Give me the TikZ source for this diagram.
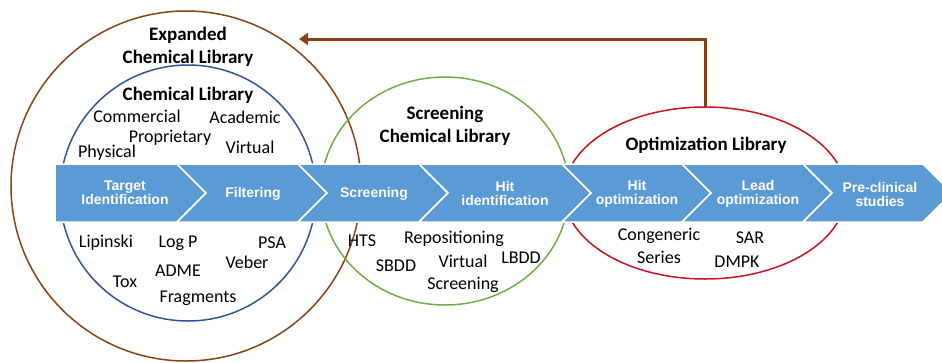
\documentclass[tikz,border=0pt]{standalone}
\usepackage{fontspec}
\setmainfont{Carlito}
\newfontfamily\bandfont{Liberation Sans}
\usetikzlibrary{shapes.geometric,arrows.meta}
\definecolor{bandBlue}{RGB}{91,155,213}
\definecolor{libBrown}{RGB}{137,66,20}
\definecolor{libBlue}{RGB}{47,85,151}
\definecolor{libGreen}{RGB}{112,173,71}
\definecolor{libRed}{RGB}{200,20,30}
\tikzstyle{libRing}=[draw, line width=1.5pt, inner sep=0pt, outer sep=0pt]
\tikzstyle{stageBox}=[fill=bandBlue, draw=white, line width=1.5pt]
\tikzstyle{stageText}=[inner sep=0pt, align=center, text=white, font=\bandfont\bfseries\fontsize{14}{14}\selectfont]
\tikzstyle{libTitle}=[inner sep=0pt, align=center, font=\bfseries\fontsize{19}{23.5}\selectfont]
\tikzstyle{itemText}=[inner sep=0pt, anchor=base, font=\fontsize{18}{22}\selectfont]
\tikzstyle{itemTwo}=[inner sep=0pt, align=center, font=\fontsize{18}{22.5}\selectfont]

\begin{document}
\begin{tikzpicture}[x=1pt, y=-1pt]
\useasboundingbox (0,0) rectangle (942,362);
\clip (0,0) rectangle (942,362);
% libraries
\node[libRing, circle, draw=libBrown, minimum size=350pt] (expLib) at (186,186) {};
\node[libRing, circle, draw=libBlue, minimum size=256pt] (chemLib) at (188,193) {};
\node[libRing, ellipse, draw=libGreen, minimum width=248pt, minimum height=228pt] (scrLib) at (445,191) {};
\node[libRing, ellipse, draw=libRed, minimum width=282pt, minimum height=172pt] (optLib) at (705,193) {};
\coordinate (back) at (299,39);
\draw[libBrown, line width=3pt, -{Triangle[length=9pt,width=12pt]}] (optLib.north) |- (back);
% pipeline band
\draw[stageBox] (55,164) -- (177,164) -- (206,193) -- (177,222) -- (55,222) -- cycle;
\foreach \a/\b in {177/298, 298/419, 419/562, 562/682, 682/803, 803/923}
  \draw[stageBox] (\a,164) -- (\b,164) -- (\b+29,193) -- (\b,222) -- (\a,222) -- (\a+29,193) -- cycle;
\node[stageText] (s1) at (125,193) {Target\\Identification};
\node[stageText] (s2) at (253,194) {Filtering};
\node[stageText] (s3) at (374,194) {Screening};
\node[stageText] (s4) at (505,193) {Hit\\identification};
\node[stageText] (s5) at (637,194) {Hit\\optimization};
\node[stageText] (s6) at (758,194) {Lead\\optimization};
\node[stageText] (s7) at (880,194) {Pre-clinical\\studies};
% titles
\node[libTitle] (expTitle) at (188,47) {Expanded\\Chemical Library};
\node[libTitle, anchor=base] (chemTitle) at (188,100) {Chemical Library};
\node[libTitle] (scrTitle) at (445,126) {Screening\\Chemical Library};
\node[libTitle, anchor=base] (optTitle) at (706,150) {Optimization Library};
% chemical library
\node[itemText] (i1) at (137,122) {Commercial};
\node[itemText] (i2) at (245,123) {Academic};
\node[itemText] (i3) at (170,142) {Proprietary};
\node[itemText] (i4) at (107,157) {Physical};
\node[itemText] (i5) at (250,153) {Virtual};
% filters
\node[itemText] (f1) at (106,247) {Lipinski};
\node[itemText] (f2) at (178,247) {Log P};
\node[itemText] (f3) at (272,248) {PSA};
\node[itemText] (f4) at (247,268) {Veber};
\node[itemText] (f5) at (178,276) {ADME};
\node[itemText] (f6) at (125,287) {Tox};
\node[itemText] (f7) at (198,302) {Fragments};
% screening
\node[itemText] (h1) at (362,246) {HTS};
\node[itemText] (h2) at (454,243) {Repositioning};
\node[itemText] (h3) at (396,271) {SBDD};
\node[itemText] (h4) at (521,263) {LBDD};
\node[itemTwo] (h5) at (463,274) {Virtual\\Screening};
% optimization
\node[itemTwo] (o1) at (659,246) {Congeneric\\Series};
\node[itemText] (o2) at (750,243) {SAR};
\node[itemText] (o3) at (737,267) {DMPK};
\end{tikzpicture}
\end{document}
